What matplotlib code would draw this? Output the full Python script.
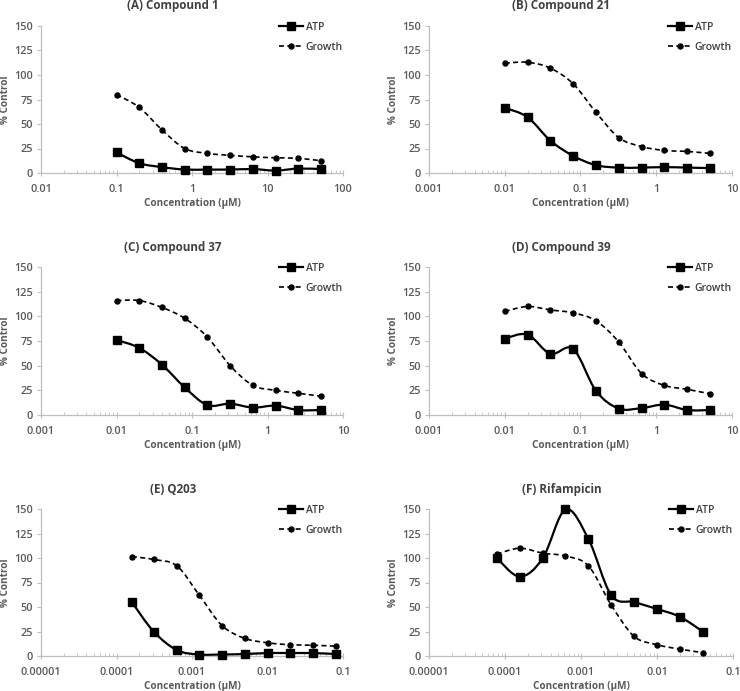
import numpy as np
import matplotlib
matplotlib.use("Agg")
import matplotlib.pyplot as plt
from matplotlib.path import Path
from matplotlib.patches import PathPatch
from matplotlib.lines import Line2D

plt.rcParams['font.family'] = ['Open Sans', 'DejaVu Sans']

titles = ["(A) Compound 1", "(B) Compound 21", "(C) Compound 37",
          "(D) Compound 39", "(E) Q203", "(F) Rifampicin"]

conc_A = [0.1, 0.2, 0.4, 0.8, 1.6, 3.2, 6.4, 12.8, 25.6, 51.2]
atp_A = [21, 10, 6, 3.5, 3.5, 3.5, 4, 2.5, 4.5, 4]
growth_A = [80, 67, 44, 25, 20, 18, 16.5, 15.5, 15, 12.5]

conc_B = [0.01, 0.02, 0.04, 0.08, 0.16, 0.32, 0.64, 1.28, 2.56, 5.12]
atp_B = [66.5, 57, 33, 17.5, 8, 5.5, 5.5, 6, 5.5, 5]
growth_B = [112, 113, 107, 91, 62, 36, 27, 23, 22, 20]

conc_C = [0.01, 0.02, 0.04, 0.08, 0.16, 0.32, 0.64, 1.28, 2.56, 5.12]
atp_C = [76, 68, 51, 28, 10, 11.5, 7.5, 9.5, 5, 5]
growth_C = [116, 116, 109, 98, 79, 50, 30, 25, 22, 19]

conc_D = [0.01, 0.02, 0.04, 0.08, 0.16, 0.32, 0.64, 1.28, 2.56, 5.12]
atp_D = [77.5, 81.5, 62, 67, 24.5, 6.5, 7, 10.5, 5, 5]
growth_D = [105, 110, 106.5, 103.5, 95.5, 74, 42, 30, 26, 21.5]

conc_E = [0.00016, 0.00031, 0.00063, 0.00125, 0.0025, 0.005, 0.01, 0.02, 0.04, 0.08]
atp_E = [55, 25, 6, 1.5, 1.5, 2, 3, 3, 3, 2]
growth_E = [101.5, 98.5, 92, 62, 31, 18, 13.5, 11.5, 11, 10]

conc_F = [0.000078, 0.000156, 0.0003125, 0.000625, 0.00125, 0.0025, 0.005, 0.01, 0.02, 0.04]
atp_F = [100, 81, 99.5, 149.5, 119.5, 62, 55, 48, 40, 25]
growth_F = [104, 110, 105, 102, 92, 52, 20, 11.5, 7, 3.5]

xlims = [(0.01, 100), (0.001, 10), (0.001, 10), (0.001, 10), (0.00001, 0.1), (0.00001, 0.1)]
xtick_vals = [[0.01, 0.1, 1, 10, 100],
              [0.001, 0.01, 0.1, 1, 10],
              [0.001, 0.01, 0.1, 1, 10],
              [0.001, 0.01, 0.1, 1, 10],
              [0.00001, 0.0001, 0.001, 0.01, 0.1],
              [0.00001, 0.0001, 0.001, 0.01, 0.1]]
xtick_labels = [["0.01", "0.1", "1", "10", "100"],
                ["0.001", "0.01", "0.1", "1", "10"],
                ["0.001", "0.01", "0.1", "1", "10"],
                ["0.001", "0.01", "0.1", "1", "10"],
                ["0.00001", "0.0001", "0.001", "0.01", "0.1"],
                ["0.00001", "0.0001", "0.001", "0.01", "0.1"]]
yticks = [0, 25, 50, 75, 100, 125, 150]

data = [(conc_A, atp_A, growth_A), (conc_B, atp_B, growth_B),
        (conc_C, atp_C, growth_C), (conc_D, atp_D, growth_D),
        (conc_E, atp_E, growth_E), (conc_F, atp_F, growth_F)]

W, H = 740, 691
# axes boxes in pixels: (left, right, top, bottom)
boxes = [(41, 343, 26, 173), (429, 732, 26, 173),
         (41, 343, 267, 415), (429, 732, 267, 415),
         (41, 343, 509, 656), (429, 733, 509, 656)]

fig = plt.figure(figsize=(W / 100, H / 100), dpi=100)

GRAY = "#bfbfbf"
TXT = "#595959"
DARK = "#404040"


def smooth_path(x, y):
    # Bezier smoothing through the data points in (log x, y) space
    lx = np.log10(np.asarray(x, float))
    yy = np.asarray(y, float)
    n = len(lx)
    verts = [(x[0], y[0])]
    codes = [Path.MOVETO]
    for i in range(n - 1):
        p0 = (lx[i - 1], yy[i - 1]) if i > 0 else (lx[i], yy[i])
        p1 = (lx[i], yy[i])
        p2 = (lx[i + 1], yy[i + 1])
        p3 = (lx[i + 2], yy[i + 2]) if i + 2 < n else (lx[i + 1], yy[i + 1])
        c1 = (p1[0] + (p2[0] - p0[0]) / 6, p1[1] + (p2[1] - p0[1]) / 6)
        c2 = (p2[0] - (p3[0] - p1[0]) / 6, p2[1] - (p3[1] - p1[1]) / 6)
        for c in (c1, c2, p2):
            verts.append((10 ** c[0], c[1]))
            codes.append(Path.CURVE4)
    return Path(verts, codes)


SQ = 5.6
CI = 3.6
for k in range(6):
    l, r, t, b = boxes[k]
    wpx, hpx = r - l, b - t
    ax = fig.add_axes([l / W, 1 - b / H, wpx / W, hpx / H])
    conc, atp, growth = data[k]
    ax.set_xscale('log')
    ax.set_xlim(*xlims[k])
    ax.set_ylim(0, 150)

    ax.add_patch(PathPatch(smooth_path(conc, atp), facecolor='none', edgecolor='black',
                           lw=1.6, zorder=2, clip_on=False))
    ax.plot(conc, atp, linestyle='none', marker='s', markersize=SQ, color='black',
            zorder=3, clip_on=False)
    ax.add_patch(PathPatch(smooth_path(conc, growth), facecolor='none', edgecolor='black',
                           lw=1.2, linestyle=(0, (3, 2)), zorder=2, clip_on=False))
    ax.plot(conc, growth, linestyle='none', marker='o', markersize=CI, color='black',
            zorder=3, clip_on=False)

    handles = [Line2D([], [], color='black', lw=1.6, marker='s', markersize=SQ),
               Line2D([], [], color='black', lw=1.2, linestyle=(0, (3, 2)), marker='o',
                      markersize=CI)]
    leg = ax.legend(handles, ["ATP", "Growth"], loc='upper right', frameon=False,
                    fontsize=7.5, handlelength=2.3, handletextpad=0.3, labelspacing=0.85,
                    bbox_to_anchor=(1.02, 1.07), borderaxespad=0.2)
    for txt in leg.get_texts():
        txt.set_color(DARK)
        txt.set_fontweight('semibold')

    for s in ['top', 'right']:
        ax.spines[s].set_visible(False)
    for s in ['left', 'bottom']:
        ax.spines[s].set_color(GRAY)
        ax.spines[s].set_linewidth(0.9)

    ax.set_yticks(yticks)
    ax.set_yticklabels([str(v) for v in yticks])
    ax.set_xticks(xtick_vals[k])
    ax.set_xticklabels(xtick_labels[k])
    ax.tick_params(axis='y', direction='out', length=3, color=GRAY, labelsize=7.8,
                   labelcolor=TXT, pad=3)
    ax.tick_params(axis='x', which='major', direction='inout', length=5, color=GRAY,
                   labelsize=7.8, labelcolor=TXT, pad=5.5)
    ax.tick_params(axis='x', which='minor', direction='in', length=2.5, color=GRAY)
    for lab in ax.get_xticklabels() + ax.get_yticklabels():
        lab.set_fontweight('semibold')

    # title centred over the whole chart area (axes centre shifted left)
    ax.text(0.5 - 19 / wpx, 1 + 20 / hpx, titles[k], transform=ax.transAxes,
            ha='center', va='center', fontsize=8.4, fontweight='bold', color=DARK)
    ax.set_ylabel("% Control", fontsize=7.2, fontweight='bold', color=TXT)
    ax.yaxis.set_label_coords(-30 / wpx, 0.5)
    ax.set_xlabel("Concentration (µM)", fontsize=7.2, fontweight='bold', color=TXT,
                  labelpad=2)

fig.savefig("out.png", dpi=100)
